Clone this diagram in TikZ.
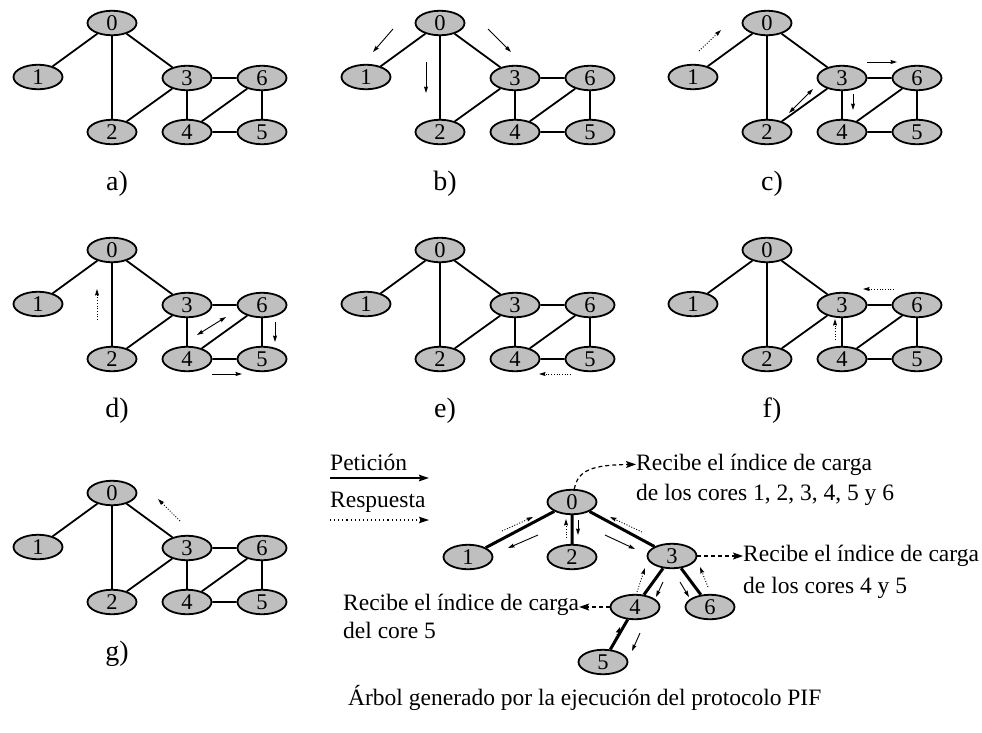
\documentclass[tikz,border=0pt]{standalone}
\usepackage{fontspec}
\setmainfont{Liberation Serif}
\usetikzlibrary{shapes.geometric,arrows.meta}
\definecolor{coregray}{gray}{0.75}

\tikzset{
  core/.style={ellipse, draw, line width=1.8pt, fill=coregray,
    minimum width=49pt, minimum height=24.5pt, inner sep=0pt,
    font=\fontsize{22.5}{22.5}\selectfont},
  edge/.style={line width=1.8pt},
  treeedge/.style={line width=3pt},
  req/.style={line width=0.9pt, -{Stealth[length=6.5pt,width=4pt,inset=0.8pt]}},
  reqboth/.style={line width=0.9pt, {Stealth[length=6.5pt,width=4pt,inset=0.8pt]}-{Stealth[length=6.5pt,width=4pt,inset=0.8pt]}},
  resp/.style={req, dash pattern=on 1pt off 1.7pt},
  legreq/.style={line width=1.8pt, -{Stealth[length=10pt,width=6.5pt,inset=1.5pt]}},
  legresp/.style={line width=1.2pt, dash pattern=on 1.1pt off 3pt, -{Stealth[length=10pt,width=6.5pt,inset=1.5pt]}},
  callout/.style={line width=1.2pt, dash pattern=on 4pt off 3pt, -{Stealth[length=10pt,width=7pt,inset=2pt]}},
  note/.style={inner sep=0pt, font=\fontsize{23.5}{28}\selectfont},
  panel/.style={inner sep=0pt, anchor=base, font=\fontsize{28}{30}\selectfont},
  pifgraph/.pic={
    \node[core] (-0) at (112,23) {0};
    \node[core] (-1) at (38,77) {1};
    \node[core] (-2) at (112,132) {2};
    \node[core] (-3) at (187,78) {3};
    \node[core] (-6) at (262,78) {6};
    \node[core] (-4) at (187,132) {4};
    \node[core] (-5) at (262,132) {5};
    \draw[edge] (-0) -- (-1) (-0) -- (-2) (-0) -- (-3) (-3) -- (-2)
      (-3) -- (-4) (-3) -- (-6) (-4) -- (-6) (-4) -- (-5) (-6) -- (-5);
  }
}

\begin{document}
\begin{tikzpicture}[x=1pt,y=-1pt]
\useasboundingbox (0,0) rectangle (982,732);

% --- the seven steps of the PIF protocol on the same network ---
\pic (a) at (0,0)     {pifgraph};
\pic (b) at (328,0)   {pifgraph};
\pic (c) at (655,0)   {pifgraph};
\pic (d) at (0,227)   {pifgraph};
\pic (e) at (328,227) {pifgraph};
\pic (f) at (655,227) {pifgraph};
\pic (g) at (0,470)   {pifgraph};

\node[panel] (la) at (117,190) {a)};
\node[panel] (lb) at (445,190) {b)};
\node[panel] (lc) at (772,190) {c)};
\node[panel] (ld) at (117,417) {d)};
\node[panel] (le) at (445,417) {e)};
\node[panel] (lf) at (772,417) {f)};
\node[panel] (lg) at (117,660) {g)};

% b) requests from 0
\begin{scope}[shift={(328,0)}]
  \draw[req] (65,29) -- (45,52);
  \draw[req] (98,62) -- (98,93);
  \draw[req] (160,29) -- (183,52);
\end{scope}
% c)
\begin{scope}[shift={(655,0)}]
  \draw[resp] (44,51) -- (66,30);
  \draw[reqboth] (134,113) -- (158,89);
  \draw[req] (198,94) -- (198,110);
  \draw[req] (212,62) -- (242,62);
\end{scope}
% d)
\begin{scope}[shift={(0,227)}]
  \draw[resp] (97,93) -- (97,62);
  \draw[reqboth] (197,108) -- (226,90);
  \draw[req] (275,95) -- (275,115);
  \draw[req] (212,147) -- (242,147);
\end{scope}
% e)
\begin{scope}[shift={(328,227)}]
  \draw[resp] (243,147) -- (211,147);
\end{scope}
% f)
\begin{scope}[shift={(655,227)}]
  \draw[resp] (239,62) -- (208,62);
  \draw[resp] (180,113) -- (180,92);
\end{scope}
% g)
\begin{scope}[shift={(0,470)}]
  \draw[resp] (180,51) -- (158,29);
\end{scope}

% --- legend ---
\node[note, anchor=base west] (petic) at (330,470) {Petición};
\coordinate (lq0) at (330,478);
\coordinate (lq1) at (429,478);
\draw[legreq] (lq0) -- (lq1);
\node[note, anchor=base west] (respu) at (330,507) {Respuesta};
\coordinate (lr0) at (330,520);
\coordinate (lr1) at (429,520);
\draw[legresp] (lr0) -- (lr1);

% --- spanning tree built by the protocol ---
\node[core] (t0) at (572,502) {0};
\node[core] (t1) at (468,557) {1};
\node[core] (t2) at (572,557) {2};
\node[core] (t3) at (672,556) {3};
\node[core] (t4) at (635,607) {4};
\node[core] (t6) at (710,607) {6};
\node[core] (t5) at (603,662) {5};
\draw[treeedge] (t0) -- (t1) (t0) -- (t2) (t0) -- (t3)
  (t3) -- (t4) (t3) -- (t6) (t4) -- (t5);

\draw[req]  (538,535) -- (508,548);
\draw[resp] (502,531) -- (533,517);
\draw[resp] (566,538) -- (566,519);
\draw[req]  (578,520) -- (578,535);
\draw[req]  (605,535) -- (635,549);
\draw[resp] (642,532) -- (610,517);
\draw[req]  (663,582) -- (656,597);
\draw[resp] (637,592) -- (645,568);
\draw[req]  (680,582) -- (689,597);
\draw[resp] (708,587) -- (700,567);
\draw[req]  (640,633) -- (632,651);
\draw[resp] (613,645) -- (620,627);

% --- callouts ---
\node[note, anchor=base west] (r0a) at (636,470) {Recibe el índice de carga};
\node[note, anchor=base west] (r0b) at (636,500) {de los cores 1, 2, 3, 4, 5 y 6};
\draw[callout] (t0.80) .. controls (578,470) and (592,465) .. (r0a.west);

\node[note, anchor=base west] (r3a) at (743,561) {Recibe el índice de carga};
\node[note, anchor=base west] (r3b) at (743,593) {de los cores 4 y 5};
\draw[callout] (t3.east) -- (t3.east -| r3a.west);

\node[note, anchor=base west] (r4a) at (343,610) {Recibe el índice de carga};
\node[note, anchor=base west] (r4b) at (343,638) {del core 5};
\draw[callout] (t4.west) -- (t4.west -| r4a.east);

\node[note, anchor=base west] (cap) at (348,705) {Árbol generado por la ejecución del protocolo PIF};
\end{tikzpicture}
\end{document}
